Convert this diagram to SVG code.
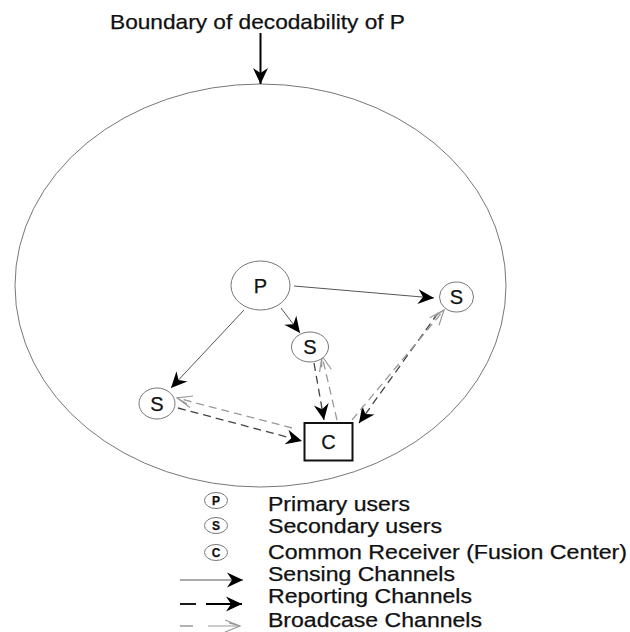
<svg xmlns="http://www.w3.org/2000/svg" width="630" height="632" viewBox="0 0 630 632">
<style>
  .lbl { font-family: "Liberation Sans", Arial, sans-serif; fill: #111; stroke: #111; stroke-width: 0.25; }
  .node { fill: #fff; stroke: #777; stroke-width: 1; }
  .sense { stroke: #555; stroke-width: 1; fill: none; }
  .report { stroke: #444; stroke-width: 1.3; fill: none; stroke-dasharray: 8 5; }
  .bcast { stroke: #999; stroke-width: 1.3; fill: none; stroke-dasharray: 8 5; }
</style>
<defs>
  <marker id="ahBlack" viewBox="-18 -9 20 18" refX="0" refY="0" markerWidth="20" markerHeight="18" markerUnits="userSpaceOnUse" orient="auto">
    <path d="M0,0 L-16,-7.5 L-11,0 L-16,7.5 Z" fill="#000" stroke="none"/>
  </marker>
  <marker id="ahOpen" viewBox="-18 -9 20 18" refX="0" refY="0" markerWidth="20" markerHeight="18" markerUnits="userSpaceOnUse" orient="auto">
    <path d="M-15,-6 L0,0 L-15,6 M-11,-3 L0,0" fill="none" stroke="#999" stroke-width="1.2" stroke-dasharray="none"/>
  </marker>
</defs>

<!-- boundary -->
<g id="boundary">
  <ellipse cx="260.5" cy="285.5" rx="245.5" ry="201.5" fill="none" stroke="#777" stroke-width="1"/>
  <text class="lbl" x="110" y="29" font-size="21" textLength="295" lengthAdjust="spacingAndGlyphs">Boundary of decodability of P</text>
  <line x1="260.5" y1="33" x2="260.5" y2="84" stroke="#000" stroke-width="2" marker-end="url(#ahBlack)"/>
</g>

<!-- connectors -->
<g id="connectors">
  <path class="sense" d="M294,286 L434,298" marker-end="url(#ahBlack)"/>
  <path class="sense" d="M281,308 L300,333" marker-end="url(#ahBlack)"/>
  <path class="sense" d="M244,310 L171,388" marker-end="url(#ahBlack)"/>

  <path class="report" d="M314,363 L324,420" marker-end="url(#ahBlack)"/>
  <path class="report" d="M438,313 L359,423" marker-end="url(#ahBlack)"/>
  <path class="report" d="M178,408 L302,441" marker-end="url(#ahBlack)"/>

  <path class="bcast" d="M337,420 L322,356" marker-end="url(#ahOpen)"/>
  <path class="bcast" d="M352,420 L444,310" marker-end="url(#ahOpen)"/>
  <path class="bcast" d="M292,428 L177,398" marker-end="url(#ahOpen)"/>
</g>

<!-- nodes -->
<g id="node-P">
  <ellipse class="node" cx="260.5" cy="285.5" rx="29.5" ry="24.5"/>
  <text class="lbl" x="260.5" y="293" font-size="20" text-anchor="middle">P</text>
</g>
<g id="node-S-right">
  <ellipse class="node" cx="456.5" cy="297" rx="17" ry="15"/>
  <text class="lbl" x="456.5" y="304" font-size="20" text-anchor="middle">S</text>
</g>
<g id="node-S-mid">
  <ellipse class="node" cx="310" cy="347" rx="18.5" ry="15"/>
  <text class="lbl" x="310" y="354" font-size="20" text-anchor="middle">S</text>
</g>
<g id="node-S-left">
  <ellipse class="node" cx="157" cy="403.5" rx="18" ry="15.5"/>
  <text class="lbl" x="157" y="410.5" font-size="20" text-anchor="middle">S</text>
</g>
<g id="node-C">
  <rect x="304.5" y="423" width="48" height="37.5" fill="#fff" stroke="#111" stroke-width="2"/>
  <text class="lbl" x="328.5" y="449" font-size="20" text-anchor="middle">C</text>
</g>

<!-- legend -->
<g id="legend">
  <ellipse class="node" cx="216" cy="500.5" rx="11.5" ry="8" stroke-width="1.3"/>
  <text class="lbl" x="216" y="504.8" font-size="12" font-weight="bold" text-anchor="middle">P</text>
  <ellipse class="node" cx="216" cy="525.5" rx="11.5" ry="8" stroke-width="1.3"/>
  <text class="lbl" x="216" y="529.8" font-size="12" font-weight="bold" text-anchor="middle">S</text>
  <ellipse class="node" cx="216" cy="552.5" rx="11.5" ry="8" stroke-width="1.3"/>
  <text class="lbl" x="216" y="556.8" font-size="12" font-weight="bold" text-anchor="middle">C</text>

  <line class="sense" x1="180" y1="580" x2="243" y2="580" marker-end="url(#ahBlack)"/>
  <line x1="180" y1="604" x2="196" y2="604" stroke="#000" stroke-width="1.8"/>
  <line x1="206" y1="604" x2="242" y2="604" stroke="#000" stroke-width="1.8" marker-end="url(#ahBlack)"/>
  <line x1="180" y1="626" x2="193" y2="626" stroke="#999" stroke-width="1.5"/>
  <line x1="208" y1="626" x2="240" y2="626" stroke="#bbb" stroke-width="1.5" marker-end="url(#ahOpen)"/>

  <text class="lbl" x="268" y="510.5" font-size="19.5" textLength="142" lengthAdjust="spacingAndGlyphs">Primary users</text>
  <text class="lbl" x="268" y="532.5" font-size="19.5" textLength="174" lengthAdjust="spacingAndGlyphs">Secondary users</text>
  <text class="lbl" x="268" y="559" font-size="19.5" textLength="359" lengthAdjust="spacingAndGlyphs">Common Receiver (Fusion Center)</text>
  <text class="lbl" x="268" y="580.5" font-size="19.5" textLength="187" lengthAdjust="spacingAndGlyphs">Sensing Channels</text>
  <text class="lbl" x="268" y="603" font-size="19.5" textLength="204" lengthAdjust="spacingAndGlyphs">Reporting Channels</text>
  <text class="lbl" x="268" y="627" font-size="19.5" textLength="214" lengthAdjust="spacingAndGlyphs">Broadcase Channels</text>
</g>
</svg>
